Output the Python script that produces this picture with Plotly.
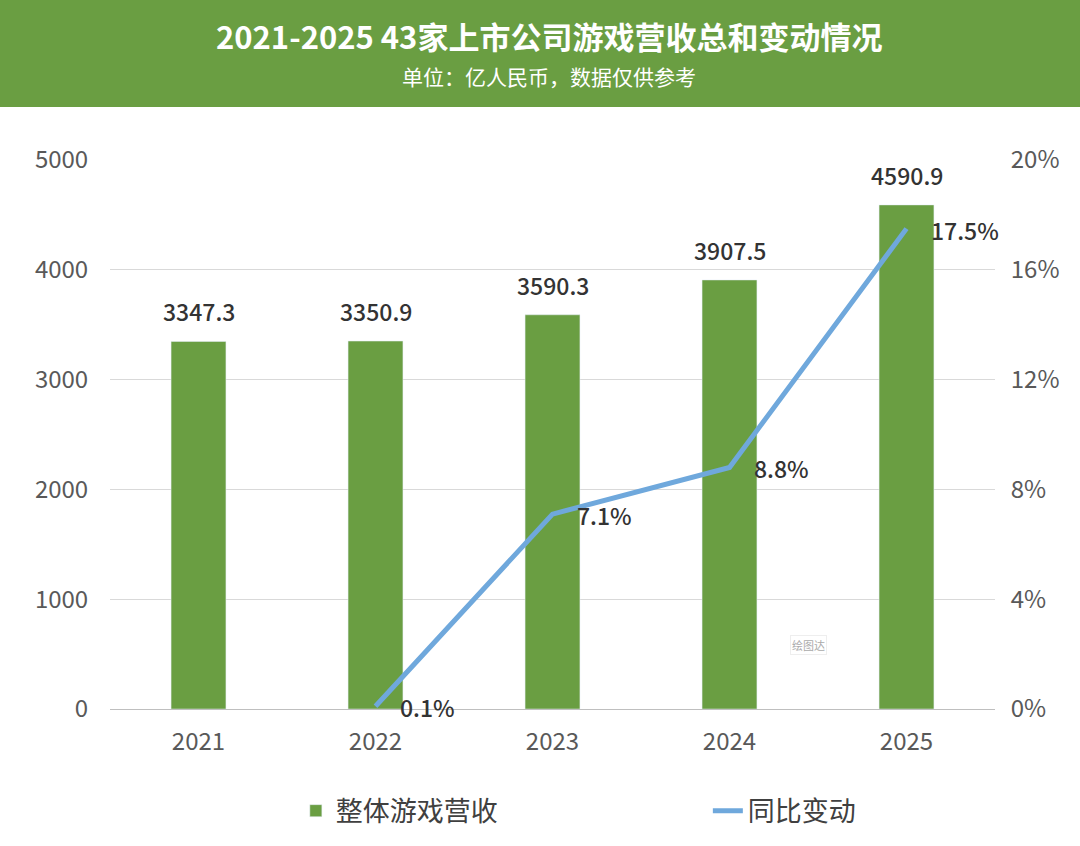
import plotly.graph_objects as go

years = ["2021", "2022", "2023", "2024", "2025"]
revenue = [3347.3, 3350.9, 3590.3, 3907.5, 4590.9]
yoy_years = ["2022", "2023", "2024", "2025"]
yoy = [0.001, 0.071, 0.088, 0.175]
left_ticks = [0, 1000, 2000, 3000, 4000, 5000]
right_ticks = [0, 0.04, 0.08, 0.12, 0.16, 0.20]

FONT = "Noto Sans CJK SC"
GREEN = "#6A9E42"
BLUE = "#6FA8DC"

fig = go.Figure()
fig.add_trace(go.Bar(
    x=years, y=revenue, name="整体游戏营收",
    marker=dict(color=GREEN),
))
fig.add_trace(go.Scatter(
    x=yoy_years, y=yoy, name="同比变动", yaxis="y2",
    mode="lines", line=dict(color=BLUE, width=5),
))

for i, v in enumerate(revenue):
    fig.add_annotation(x=i, y=v, xref="x", yref="y", text=f"{v:.1f}", showarrow=False,
                       xanchor="center", yanchor="middle", yshift=30,
                       font=dict(family=FONT, size=23, color="#333333", weight=500))

for xc, v in zip(yoy_years, yoy):
    fig.add_annotation(x=years.index(xc), y=v, xref="x", yref="y2", text=f"{v*100:.1f}%",
                       showarrow=False, xanchor="left", yanchor="middle",
                       xshift=22, yshift=-1,
                       font=dict(family=FONT, size=23, color="#333333", weight=500))

# banner
fig.add_shape(type="rect", xref="paper", yref="paper", x0=-0.3, x1=1.3,
              y0=1.0965, y1=1.35, fillcolor=GREEN, line=dict(width=0), layer="below")
fig.add_annotation(xref="paper", yref="paper", x=0.4955, y=1.2260,
                   xanchor="center", yanchor="middle",
                   text="<b>2021-2025 43家上市公司游戏营收总和变动情况</b>",
                   showarrow=False, font=dict(family=FONT, size=31, color="white"))
fig.add_annotation(xref="paper", yref="paper", x=0.4955, y=1.1525,
                   xanchor="center", yanchor="middle",
                   text="单位：亿人民币，数据仅供参考",
                   showarrow=False, font=dict(family=FONT, size=21, color="white"))
# watermark
fig.add_annotation(xref="paper", yref="paper", x=0.789, y=0.117,
                   xanchor="center", yanchor="middle",
                   text="绘图达", showarrow=False, bgcolor="white",
                   bordercolor="#eeeeee", borderwidth=1,
                   font=dict(family=FONT, size=11, color="#aaaaaa"))

fig.update_layout(
    width=1080, height=846,
    margin=dict(l=110, r=85, t=160, b=137, autoexpand=False),
    paper_bgcolor="white", plot_bgcolor="white",
    font=dict(family=FONT, color="#595959"),
    bargap=0.69,
    showlegend=True,
    legend=dict(orientation="h", x=0.21, xanchor="left", y=-0.186, yanchor="middle",
                font=dict(family=FONT, size=27, color="#404040"),
                entrywidth=367, entrywidthmode="pixels"),
    xaxis=dict(type="category", range=[-0.5, 4.5], showgrid=False, showline=True,
               linecolor="#bfbfbf", linewidth=1, ticks="outside", ticklen=11,
               tickcolor="rgba(0,0,0,0)",
               tickfont=dict(family=FONT, size=24, color="#595959")),
    yaxis=dict(range=[0, 5000], tickvals=left_ticks, showgrid=True, gridcolor="#d9d9d9",
               gridwidth=1, zeroline=False, ticks="outside", ticklen=16,
               tickcolor="rgba(0,0,0,0)",
               tickfont=dict(family=FONT, size=24, color="#595959")),
    yaxis2=dict(range=[0, 0.2], tickvals=right_ticks, tickformat=".0%", overlaying="y",
                side="right", showgrid=False, zeroline=False, ticks="outside", ticklen=10,
                tickcolor="rgba(0,0,0,0)",
                tickfont=dict(family=FONT, size=24, color="#595959")),
)

fig.write_html("out.html")
